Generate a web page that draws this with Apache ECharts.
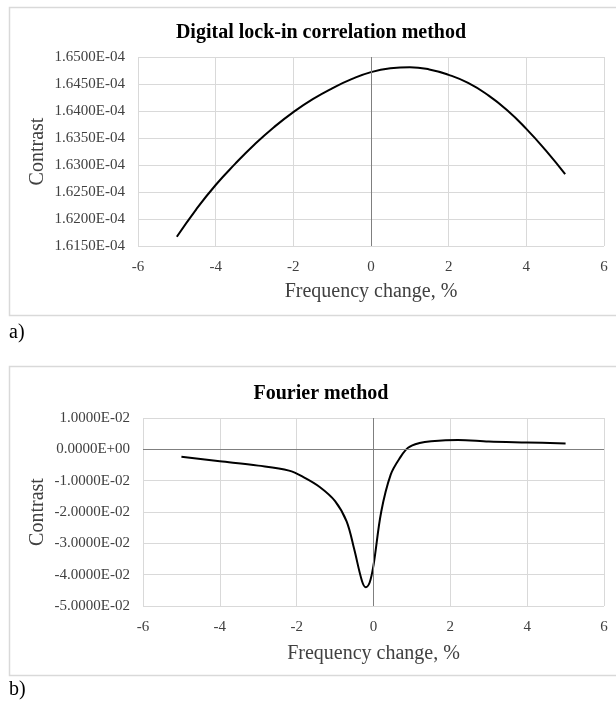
<!DOCTYPE html>
<html>
<head>
<meta charset="utf-8">
<script src="https://cdn.jsdelivr.net/npm/echarts@6/dist/echarts.min.js"></script>
<style>
  html, body { margin: 0; padding: 0; background: #fff; }
  #chart { width: 616px; height: 702px; }
</style>
</head>
<body>
<div id="chart"></div>
<script>
// ========================================
// DATA
// ========================================

// a) Digital lock-in correlation method
var freqA = [-5, -4.5, -4, -3.5, -3, -2.5, -2, -1.5, -1, -0.5, 0, 0.5, 1, 1.5, 2, 2.5, 3, 3.5, 4, 4.5, 5];
var contrastA = [1.6167e-4, 1.6218e-4, 1.6263e-4, 1.6302e-4, 1.6338e-4, 1.6370e-4, 1.6398e-4, 1.6422e-4,
  1.6442e-4, 1.6459e-4, 1.6472e-4, 1.6479e-4, 1.6481e-4, 1.6477e-4, 1.6467e-4, 1.6452e-4,
  1.6430e-4, 1.6402e-4, 1.6367e-4, 1.6327e-4, 1.6283e-4];

// b) Fourier method
var freqB = [-5, -4, -3, -2.2, -1.8, -1.4, -1, -0.7, -0.5, -0.3, -0.2, -0.1, 0, 0.2, 0.45, 0.7, 0.9, 1.2, 1.5, 2.2, 3, 4, 5];
var contrastB = [-0.0024, -0.0038, -0.0052, -0.0068, -0.0090, -0.0120, -0.0165, -0.0230, -0.0320, -0.0420,
  -0.0440, -0.0425, -0.0370, -0.0200, -0.0080, -0.0025, 0.0005, 0.0020, 0.0026, 0.0030, 0.0025, 0.0022, 0.0019];

var titles = ['Digital lock-in correlation method', 'Fourier method'];
var panelLabels = ['a)', 'b)'];
var xName = 'Frequency change, %';
var yName = 'Contrast';

// ========================================
// HELPERS
// ========================================

var SERIF = '"Liberation Serif", "Times New Roman", serif';

/**
 * Excel style scientific label, e.g. 1.6500E-04
 */
function sci(v) {
  var parts = Number(v).toExponential(4).split('e');
  var exp = parseInt(parts[1], 10);
  var e = Math.abs(exp);
  return parts[0] + 'E' + (exp < 0 ? '-' : '+') + (e < 10 ? '0' + e : e);
}

function pairs(xs, ys) {
  return xs.map(function (x, i) { return [x, ys[i]]; });
}

function xAxisFor(gridIndex, gap) {
  return {
    type: 'value', gridIndex: gridIndex, min: -6, max: 6, interval: 2,
    name: xName, nameLocation: 'middle', nameGap: gap,
    nameTextStyle: { fontFamily: SERIF, fontSize: 20, color: '#404040' },
    axisLine: { show: false },
    axisTick: { show: false },
    axisLabel: { fontFamily: SERIF, fontSize: 15, color: '#404040', margin: 14 },
    splitLine: { show: true, lineStyle: { color: '#d9d9d9', width: 1 } }
  };
}

function yAxisFor(gridIndex, min, max, interval, gap) {
  return {
    type: 'value', gridIndex: gridIndex, min: min, max: max, interval: interval,
    name: yName, nameLocation: 'middle', nameGap: gap, nameMoveOverlap: false,
    nameTextStyle: { fontFamily: SERIF, fontSize: 20, color: '#404040' },
    axisLine: { show: false },
    axisTick: { show: false },
    axisLabel: { fontFamily: SERIF, fontSize: 15, color: '#404040', margin: 13, formatter: sci },
    splitLine: { show: true, lineStyle: { color: '#d9d9d9', width: 1 } }
  };
}

function zeroLines(list) {
  return {
    silent: true,
    symbol: 'none',
    label: { show: false },
    lineStyle: { color: '#7f7f7f', width: 1, type: 'solid' },
    data: list
  };
}

// ========================================
// CHART
// ========================================

var chart = echarts.init(document.getElementById('chart'), null, { renderer: 'canvas' });

chart.setOption({
  animation: false,
  backgroundColor: '#fff',
  title: [
    { text: titles[0], left: 316, top: 18, textAlign: 'center',
      textStyle: { fontFamily: SERIF, fontSize: 20, fontWeight: 'bold', color: '#000' } },
    { text: titles[1], left: 316, top: 379, textAlign: 'center',
      textStyle: { fontFamily: SERIF, fontSize: 20, fontWeight: 'bold', color: '#000' } }
  ],
  graphic: [
    { type: 'rect', shape: { x: 9.5, y: 7.5, width: 620, height: 308 },
      style: { fill: 'none', stroke: '#d9d9d9', lineWidth: 1.5 }, silent: true },
    { type: 'rect', shape: { x: 9.5, y: 366.5, width: 620, height: 309 },
      style: { fill: 'none', stroke: '#d9d9d9', lineWidth: 1.5 }, silent: true },
    { type: 'text', left: 9, top: 323,
      style: { text: panelLabels[0], font: '20px ' + SERIF, fill: '#000' } },
    { type: 'text', left: 9, top: 680,
      style: { text: panelLabels[1], font: '20px ' + SERIF, fill: '#000' } }
  ],
  grid: [
    { left: 138, right: 12, top: 57, height: 189 },
    { left: 143, right: 12, top: 418, height: 188 }
  ],
  xAxis: [xAxisFor(0, 36), xAxisFor(1, 38)],
  yAxis: [
    yAxisFor(0, 1.615e-4, 1.65e-4, 5e-7, 90),
    yAxisFor(1, -0.05, 0.01, 0.01, 95)
  ],
  series: [
    {
      type: 'line', xAxisIndex: 0, yAxisIndex: 0,
      data: pairs(freqA, contrastA),
      smooth: 0.5, symbol: 'none',
      lineStyle: { color: '#000', width: 2 },
      markLine: zeroLines([{ xAxis: 0 }])
    },
    {
      type: 'line', xAxisIndex: 1, yAxisIndex: 1,
      data: pairs(freqB, contrastB),
      smooth: 0.35, symbol: 'none',
      lineStyle: { color: '#000', width: 2 },
      markLine: zeroLines([{ xAxis: 0 }, { yAxis: 0 }])
    }
  ]
});
</script>
</body>
</html>
